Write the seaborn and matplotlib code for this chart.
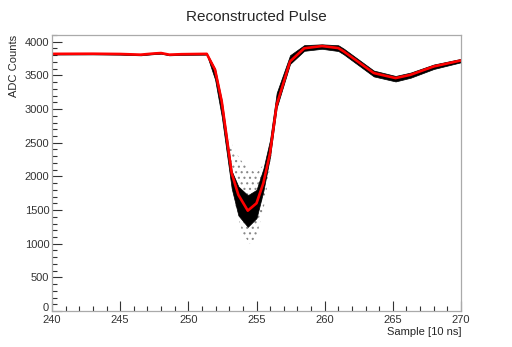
import matplotlib
matplotlib.use('Agg')
import matplotlib.pyplot as plt
import matplotlib.transforms as mtransforms
import numpy as np
import pandas as pd
import seaborn as sns


# red reconstructed pulse (vertices)
sample = [240.0, 243.0, 245.0, 246.5, 247.5, 248.0, 248.6, 249.5, 251.35,
          251.96, 252.45, 253.18, 253.67, 254.36, 255.0, 255.5, 255.99,
          256.48, 257.46, 258.5, 259.8, 261.0, 261.4, 263.6, 265.2, 266.3,
          268.0, 270.0]
adc = [3820, 3822, 3818, 3808, 3826, 3832, 3808, 3815, 3820,
       3584, 3112, 2047, 1725, 1491, 1601, 1899, 2345,
       3063, 3707, 3903, 3936, 3906, 3856, 3535, 3460, 3509,
       3633, 3722]

# dense black point cloud around the pulse: lower / upper envelope
cloud_lo = [3810, 3812, 3808, 3798, 3816, 3822, 3798, 3805, 3808,
            3440, 2890, 1820, 1420, 1250, 1380, 1780, 2290,
            3020, 3670, 3865, 3895, 3862, 3812, 3485, 3410, 3465,
            3595, 3695]
cloud_hi = [3830, 3832, 3828, 3818, 3836, 3842, 3818, 3825, 3830,
            3600, 3130, 2080, 1850, 1720, 1800, 2110, 2540,
            3240, 3800, 3950, 3962, 3948, 3898, 3572, 3492, 3542,
            3662, 3746]

# sparse halo of points around the minimum
halo_x = [252.9, 253.5, 254.0, 254.5, 255.0, 255.6, 256.1]
halo_lo = [2400, 1500, 1150, 1000, 1100, 1600, 2300]
halo_hi = [2600, 2350, 2200, 2100, 2050, 2200, 2500]

df = pd.DataFrame({'sample': sample, 'adc': adc,
                   'lo': cloud_lo, 'hi': cloud_hi})

sns.set_style('ticks')
plt.rcParams['font.family'] = ['Liberation Sans', 'DejaVu Sans']
plt.rcParams['hatch.linewidth'] = 0.8

fig = plt.figure(figsize=(5.12, 3.47), dpi=100)
ax = fig.add_axes([0.1016, 0.1037, 0.7988, 0.7954])

ax.fill_between(halo_x, halo_lo, halo_hi, facecolor='none',
                edgecolor='#888888', hatch='...', linewidth=0)
ax.fill_between(df['sample'], df['lo'], df['hi'], color='black',
                linewidth=0.5)
sns.lineplot(data=df, x='sample', y='adc', color='red', linewidth=1.9,
             sort=False, estimator=None, ax=ax)

ax.set_xlim(240, 270)
ax.set_ylim(0, 4100)
ax.set_xticks(np.arange(240, 271, 5))
ax.set_xticks(np.arange(240, 271, 1), minor=True)
ax.set_yticks(np.arange(0, 4001, 500))
ax.set_yticks(np.arange(0, 4101, 100), minor=True)
ax.tick_params(which='both', direction='in', colors='#333333',
               labelsize=8, width=0.8)
ax.tick_params(which='major', length=7)
ax.tick_params(which='minor', length=3.5)
ax.tick_params(axis='x', pad=3)
ax.tick_params(axis='y', pad=2)
for s in ax.spines.values():
    s.set_color('#aaaaaa')
    s.set_linewidth(0.9)

# nudge the "0" label up so it does not sit on "240"
zero = ax.get_yticklabels()[0]
zero.set_transform(zero.get_transform() +
                   mtransforms.ScaledTranslation(0, 3 / 72, fig.dpi_scale_trans))

ax.set_xlabel('Sample [10 ns]', loc='right', fontsize=8, labelpad=1)
ax.set_ylabel('ADC Counts', loc='top', fontsize=8, labelpad=4)
fig.suptitle('Reconstructed Pulse', fontsize=11, y=0.972)

fig.savefig('out.png', dpi=100)
